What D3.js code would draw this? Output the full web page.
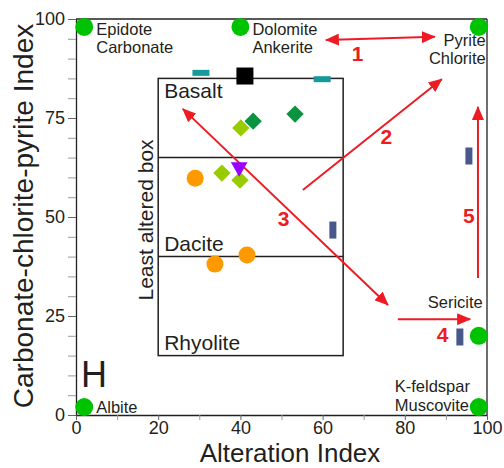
<!DOCTYPE html>
<html>
<head>
<meta charset="utf-8">
<script src="https://cdn.jsdelivr.net/npm/d3@7"></script>
<style>
  html, body { margin: 0; padding: 0; background: #fff; }
  svg { display: block; font-family: "Liberation Sans", Arial, Helvetica, sans-serif; }
</style>
</head>
<body>
<svg id="chart" width="504" height="468"></svg>
<script>
// Axis ticks
const xMajorTicks = [0, 20, 40, 60, 80, 100];
const xMinorTicks = [10, 30, 50, 70, 90];
const yMajorTicks = [0, 25, 50, 75, 100];
const yMinorTicks = [5, 10, 15, 20, 30, 35, 40, 45, 55, 60, 65, 70, 80, 85, 90, 95];

// Mineral end-members (Alteration Index, CCP Index)
const minerals = [
  { name: ["Epidote", "Carbonate"], ai: 2, ccp: 98, anchor: "start", dx: 12, dy: 8 },
  { name: ["Dolomite", "Ankerite"], ai: 40, ccp: 98, anchor: "start", dx: 12, dy: 8 },
  { name: ["Pyrite", "Chlorite"], ai: 98, ccp: 98, anchor: "end", dx: 7, dy: 19 },
  { name: ["Sericite"], ai: 98, ccp: 20, anchor: "end", dx: 4, dy: -28 },
  { name: ["K-feldspar", "Muscovite"], ai: 98, ccp: 2, anchor: "start", dx: -84, dy: -15 },
  { name: ["Albite"], ai: 2, ccp: 2, anchor: "start", dx: 12, dy: 6 }
];

// Least altered box extents and rock-type dividers
const boxAI = [20, 65];
const boxCCP = [15, 85];
const dividers = [65, 40];
const rockTypes = [
  { name: "Basalt", ccp: 80 },
  { name: "Dacite", ccp: 41.5 },
  { name: "Rhyolite", ccp: 16.5 }
];

// Samples
const blackSquares = [{ ai: 41.1, ccp: 85.6 }];
const tealDashes = [{ ai: 30.4, ccp: 86.4 }, { ai: 59.9, ccp: 84.8 }];
const navyBars = [{ ai: 62.5, ccp: 46.7 }, { ai: 95.6, ccp: 65.4 }, { ai: 93.4, ccp: 19.7 }];
const darkGreenDiamonds = [{ ai: 43.1, ccp: 74.2 }, { ai: 53.3, ccp: 76.0 }];
const lightGreenDiamonds = [{ ai: 40.1, ccp: 72.5 }, { ai: 35.5, ccp: 61.1 }, { ai: 39.9, ccp: 59.3 }];
const purpleTriangles = [{ ai: 39.7, ccp: 62.6 }];
const orangeCircles = [{ ai: 29.0, ccp: 59.8 }, { ai: 33.8, ccp: 38.1 }, { ai: 41.6, ccp: 40.4 }];

// Alteration trends
const trends = [
  { id: "1", from: [60.8, 94.7], to: [87.3, 95.5], both: true, label: [68.5, 89.5] },
  { id: "2", from: [55.2, 56.8], to: [89.0, 84.8], both: false, label: [75.5, 68.5] },
  { id: "3", from: [26.0, 77.3], to: [75.9, 27.8], both: true, label: [50.5, 47.8] },
  { id: "4", from: [78.3, 24.2], to: [95.9, 24.2], both: false, label: [89.2, 18.5] },
  { id: "5", from: [97.8, 34.6], to: [97.8, 77.8], both: false, label: [95.6, 48.5] }
];

const ink = "#231f20";
const red = "#ed1c24";

const svg = d3.select("#chart");
const x = d3.scaleLinear().domain([0, 100]).range([76, 487]);
const y = d3.scaleLinear().domain([0, 100]).range([415, 19]);

// Arrowheads
const defs = svg.append("defs");
["end", "start"].forEach(kind => {
  defs.append("marker")
    .attr("id", "head-" + kind)
    .attr("viewBox", "0 0 14 12")
    .attr("refX", kind === "end" ? 13 : 1)
    .attr("refY", 6)
    .attr("markerUnits", "userSpaceOnUse")
    .attr("markerWidth", 14)
    .attr("markerHeight", 12)
    .attr("orient", "auto")
    .append("path")
    .attr("d", kind === "end" ? "M0,0 L14,6 L0,12 Z" : "M14,0 L0,6 L14,12 Z")
    .attr("fill", red);
});

// Frame (top and right)
svg.append("line").attr("x1", x(0)).attr("x2", x(100)).attr("y1", y(100)).attr("y2", y(100))
  .attr("stroke", ink).attr("stroke-width", 1.3);
svg.append("line").attr("x1", x(100)).attr("x2", x(100)).attr("y1", y(100)).attr("y2", y(0))
  .attr("stroke", ink).attr("stroke-width", 1.3);

// Axes
const xAxis = svg.append("g").attr("transform", `translate(0,${y(0)})`)
  .call(d3.axisBottom(x).tickValues(xMajorTicks).tickSize(5).tickPadding(1).tickSizeOuter(0));
const xMinor = svg.append("g").attr("transform", `translate(0,${y(0)})`)
  .call(d3.axisBottom(x).tickValues(xMinorTicks).tickSize(5).tickFormat("").tickSizeOuter(0));
const yAxis = svg.append("g").attr("transform", `translate(${x(0)},0)`)
  .call(d3.axisLeft(y).tickValues(yMajorTicks).tickSize(8).tickPadding(3).tickSizeOuter(0));
const yMinor = svg.append("g").attr("transform", `translate(${x(0)},0)`)
  .call(d3.axisLeft(y).tickValues(yMinorTicks).tickSize(8).tickFormat("").tickSizeOuter(0));

[xAxis, yAxis].forEach(g => {
  g.select(".domain").attr("stroke", ink).attr("stroke-width", 1.3);
  g.selectAll(".tick line").attr("stroke", "#666");
  g.selectAll(".tick text").attr("fill", ink).attr("font-size", 18).attr("font-family", null);
});
[xMinor, yMinor].forEach(g => {
  g.select(".domain").remove();
  g.selectAll(".tick line").attr("stroke", "#999");
});

// Axis titles
svg.append("text").attr("x", 290).attr("y", 462).attr("text-anchor", "middle")
  .attr("font-size", 26).attr("fill", ink).text("Alteration Index");
svg.append("text").attr("transform", "translate(33,216) rotate(-90)").attr("text-anchor", "middle")
  .attr("font-size", 28).attr("fill", ink).text("Carbonate-chlorite-pyrite Index");

// Least altered box
const box = svg.append("g");
box.append("rect")
  .attr("x", x(boxAI[0])).attr("y", y(boxCCP[1]))
  .attr("width", x(boxAI[1]) - x(boxAI[0])).attr("height", y(boxCCP[0]) - y(boxCCP[1]))
  .attr("fill", "none").attr("stroke", ink).attr("stroke-width", 1.5);
box.selectAll("line.divider").data(dividers).join("line").attr("class", "divider")
  .attr("x1", x(boxAI[0])).attr("x2", x(boxAI[1]))
  .attr("y1", d => y(d)).attr("y2", d => y(d))
  .attr("stroke", ink).attr("stroke-width", 1.5);
box.selectAll("text.rock").data(rockTypes).join("text").attr("class", "rock")
  .attr("x", x(boxAI[0]) + 6).attr("y", d => y(d.ccp))
  .attr("font-size", 21).attr("fill", ink).text(d => d.name);
svg.append("text").attr("transform", "translate(153,220) rotate(-90)").attr("text-anchor", "middle")
  .attr("font-size", 21).attr("fill", ink).text("Least altered box");

// Big panel letter
svg.append("text").attr("x", 81).attr("y", 387).attr("font-size", 36).attr("fill", ink).text("H");

// Trend arrows
const arrows = svg.append("g");
arrows.selectAll("line").data(trends).join("line")
  .attr("x1", d => x(d.from[0])).attr("y1", d => y(d.from[1]))
  .attr("x2", d => x(d.to[0])).attr("y2", d => y(d.to[1]))
  .attr("stroke", red).attr("stroke-width", 2)
  .attr("marker-end", "url(#head-end)")
  .attr("marker-start", d => d.both ? "url(#head-start)" : null);
arrows.selectAll("text").data(trends).join("text")
  .attr("x", d => x(d.label[0])).attr("y", d => y(d.label[1]))
  .attr("text-anchor", "middle").attr("font-size", 21).attr("font-weight", "bold")
  .attr("fill", red).text(d => d.id);

// Mineral end-members
const mg = svg.append("g");
mg.selectAll("circle").data(minerals).join("circle")
  .attr("cx", d => x(d.ai)).attr("cy", d => y(d.ccp)).attr("r", 9).attr("fill", "#00c300");
minerals.forEach(m => {
  const t = mg.append("text")
    .attr("x", x(m.ai) + m.dx)
    .attr("y", y(m.ccp) + m.dy)
    .attr("text-anchor", m.anchor).attr("font-size", 16.5).attr("fill", ink);
  m.name.forEach((line, i) => {
    t.append("tspan").attr("x", x(m.ai) + m.dx).attr("dy", i === 0 ? 0 : 18.5).text(line);
  });
});

// Samples
const sg = svg.append("g");
sg.selectAll("rect.black").data(blackSquares).join("rect").attr("class", "black")
  .attr("x", d => x(d.ai) - 8.5).attr("y", d => y(d.ccp) - 8.5)
  .attr("width", 17).attr("height", 17).attr("fill", "#000");
sg.selectAll("rect.teal").data(tealDashes).join("rect").attr("class", "teal")
  .attr("x", d => x(d.ai) - 8.5).attr("y", d => y(d.ccp) - 3)
  .attr("width", 17).attr("height", 6).attr("fill", "#17999c");
sg.selectAll("rect.navy").data(navyBars).join("rect").attr("class", "navy")
  .attr("x", d => x(d.ai) - 3.5).attr("y", d => y(d.ccp) - 8.5)
  .attr("width", 7).attr("height", 17).attr("fill", "#46598a");
const diamond = d3.symbol().type(d3.symbolSquare).size(150);
sg.selectAll("path.dg").data(darkGreenDiamonds).join("path").attr("class", "dg")
  .attr("d", diamond).attr("transform", d => `translate(${x(d.ai)},${y(d.ccp)}) rotate(45)`)
  .attr("fill", "#0a9340");
sg.selectAll("path.lg").data(lightGreenDiamonds).join("path").attr("class", "lg")
  .attr("d", diamond).attr("transform", d => `translate(${x(d.ai)},${y(d.ccp)}) rotate(45)`)
  .attr("fill", "#99cc00");
sg.selectAll("path.pt").data(purpleTriangles).join("path").attr("class", "pt")
  .attr("d", d3.symbol().type(d3.symbolTriangle).size(120))
  .attr("transform", d => `translate(${x(d.ai)},${y(d.ccp)}) rotate(180)`)
  .attr("fill", "#9900ff");
sg.selectAll("circle.orange").data(orangeCircles).join("circle").attr("class", "orange")
  .attr("cx", d => x(d.ai)).attr("cy", d => y(d.ccp)).attr("r", 8.5).attr("fill", "#ff9900");
</script>
</body>
</html>
